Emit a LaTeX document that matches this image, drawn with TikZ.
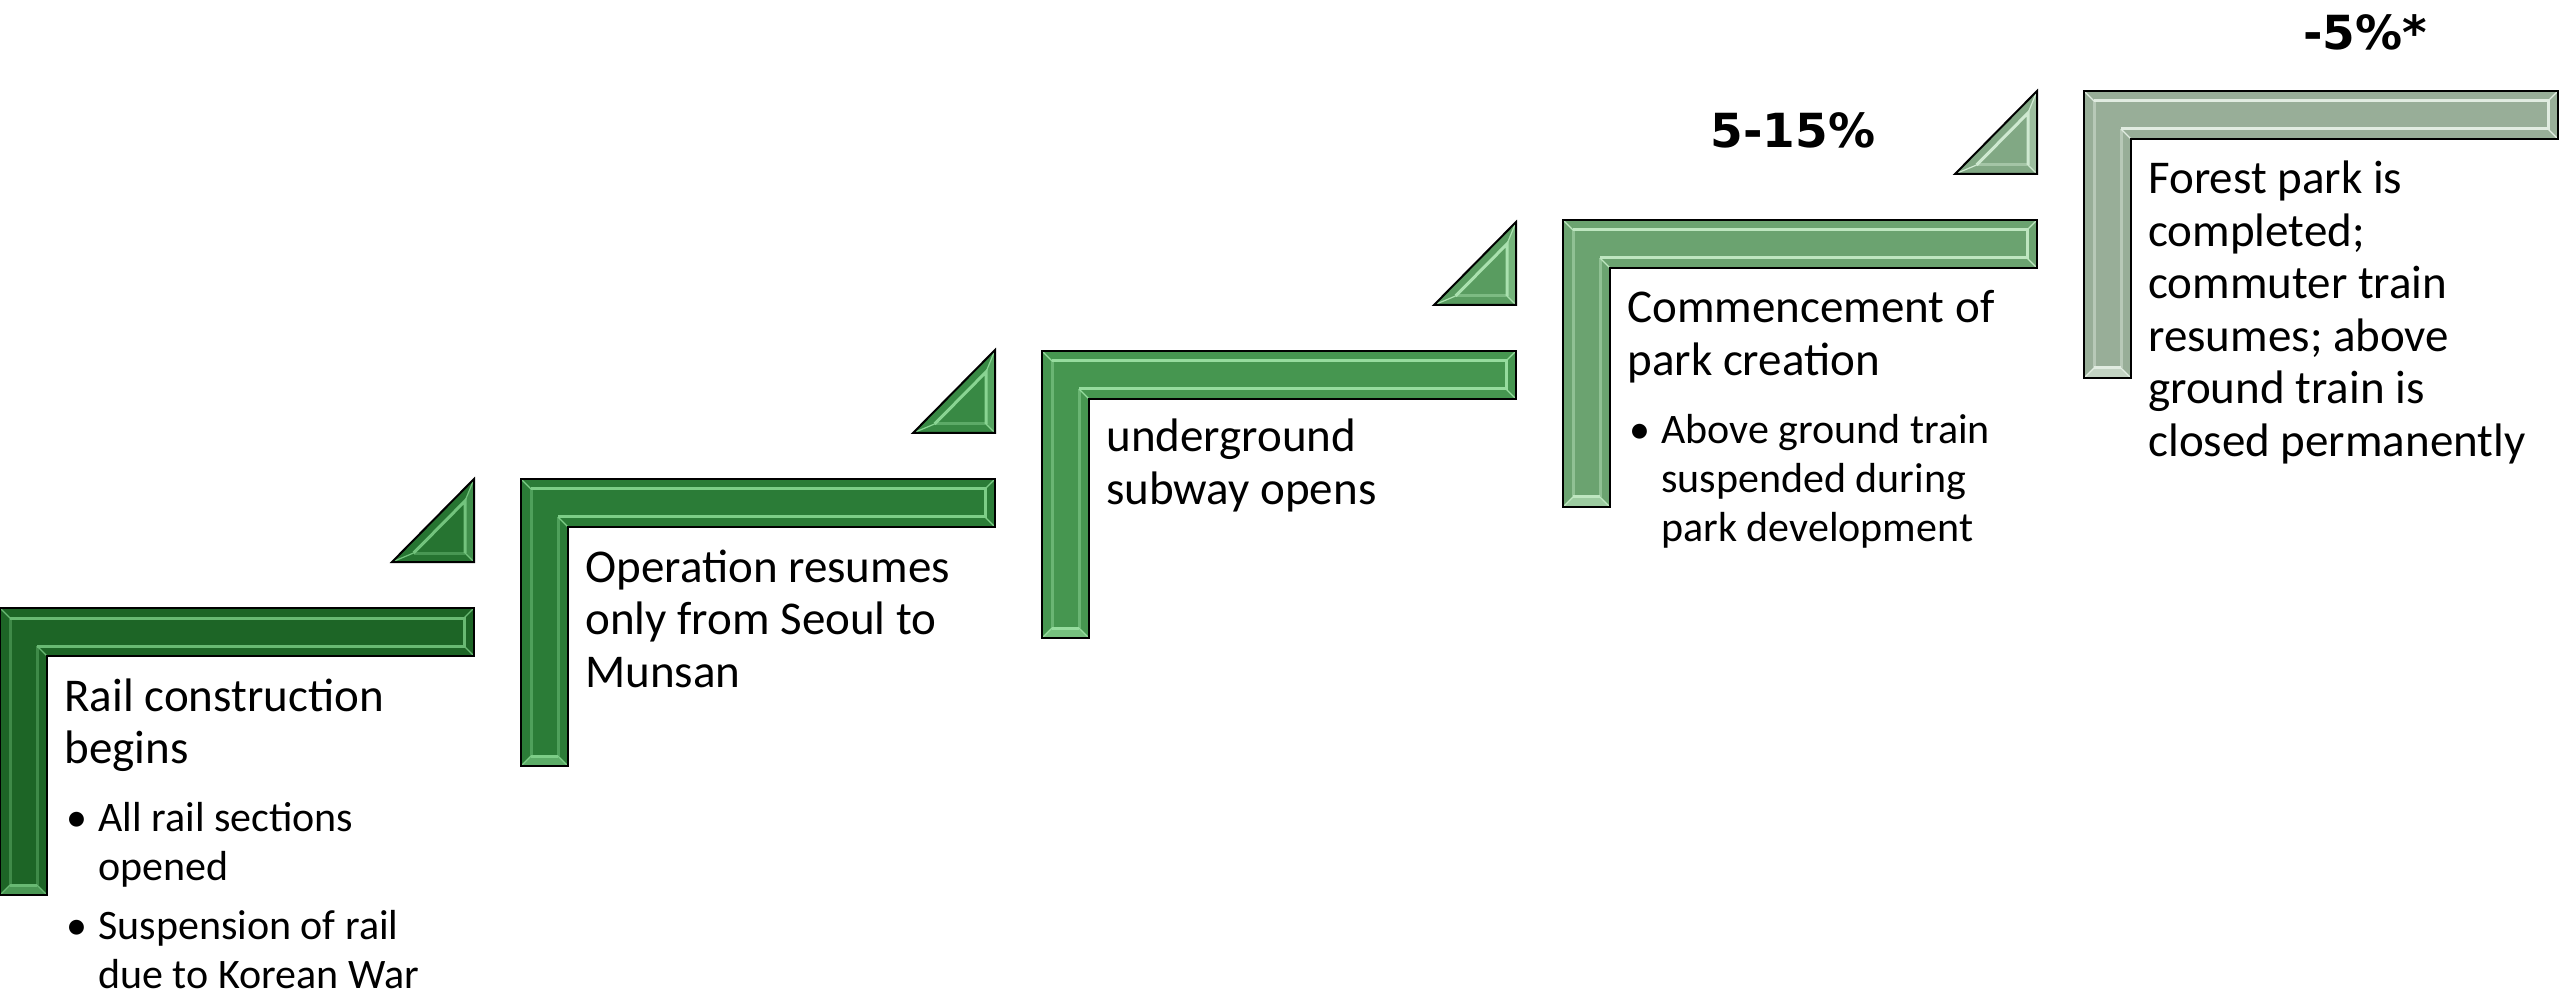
\documentclass[tikz,border=0pt]{standalone}
\usepackage{fontspec}
\setmainfont{Carlito}
\newfontfamily\labelfont{DejaVu Sans}
\definecolor{sA}{RGB}{29,101,38}
\definecolor{sB}{RGB}{43,124,55}
\definecolor{sC}{RGB}{70,150,80}
\definecolor{sD}{RGB}{107,163,112}
\definecolor{sE}{RGB}{152,174,152}
\definecolor{lA}{RGB}{105,185,115}
\definecolor{lB}{RGB}{125,205,135}
\definecolor{lC}{RGB}{150,220,158}
\definecolor{lD}{RGB}{190,230,192}
\definecolor{lE}{RGB}{225,236,225}
\newcommand\hd{\fontsize{23.5pt}{26.25pt}\selectfont}
\newcommand\bl{\fontsize{21pt}{24.5pt}\selectfont}
\newcommand\bitem[2][5pt]{\par\vspace{#1}\bl\noindent\hangindent=17pt\hangafter=1\makebox[17pt][l]{\hspace{1pt}\textbullet}#2\par}
\tikzset{
  stepbody/.style={fill=#1},
  outline/.style={draw=black, line width=1pt, line join=miter},
  bevel/.style={draw=#1, line width=1.5pt, line join=miter},
  softbevel/.style={draw=#1, line width=1.5pt, draw opacity=0.45},
  joint/.style={draw=#1, line width=0.6pt},
  txt/.style={anchor=base west, inner sep=0pt},
  pct/.style={anchor=base, inner sep=0pt, font=\labelfont\bfseries\fontsize{23.5pt}{28pt}\selectfont},
}
\newcommand\Lshape[4]{%
  \begin{scope}[shift={(#1,#2)}]
    \fill[stepbody=#3] (0,0) -- (474,0) -- (474,48) -- (47,48) -- (47,287) -- (0,287) -- cycle;
    \fill[#4, opacity=0.6] (0,287) -- (47,287) -- (37,277) -- (10,277) -- cycle;
    \draw[bevel=#4] (10,10) -- (464,10) -- (464,38) -- (37,38);
    \draw[bevel=#4] (10,277) -- (37,277);
    \draw[softbevel=#4] (37,38) -- (37,277) (10,277) -- (10,10);
    \draw[joint=#4] (0,0) -- (10,10) (474,0) -- (464,10) (474,48) -- (464,38)
      (47,48) -- (37,38) (47,287) -- (37,277) (0,287) -- (10,277);
    \draw[outline] (0,0) -- (474,0) -- (474,48) -- (47,48) -- (47,287) -- (0,287) -- cycle;
  \end{scope}}
\newcommand\Tri[4]{%
  \begin{scope}[shift={(#1,#2)}]
    \fill[stepbody=#3] (-82,0) -- (0,0) -- (0,-83) -- cycle;
    \fill[#4, opacity=0.35] (0,0) -- (0,-83) -- (-9,-61) -- (-9,-9) -- cycle;
    \draw[bevel=#4] (-60.4,-9) -- (-9,-61) -- (-9,-9);
    \draw[softbevel=#4] (-9,-9) -- (-60.4,-9);
    \draw[joint=#4] (-82,0) -- (-60.4,-9) (0,0) -- (-9,-9) (0,-83) -- (-9,-61);
    \draw[outline] (-82,0) -- (0,0) -- (0,-83) -- cycle;
  \end{scope}}
\begin{document}
\begin{tikzpicture}[x=0.5pt,y=-0.5pt]
\useasboundingbox (0,0) rectangle (2560,994);
% steps
\Lshape{0}{608}{sA}{lA}
\Lshape{521}{479}{sB}{lB}
\Lshape{1042}{351}{sC}{lC}
\Lshape{1563}{220}{sD}{lD}
\Lshape{2084}{91}{sE}{lE}
% triangles
\Tri{474}{562}{sA!35!sB}{lA!50!lB}
\Tri{995}{433}{sB!50!sC}{lB!50!lC}
\Tri{1516}{305}{sC!50!sD}{lC!50!lD}
\Tri{2037}{174}{sD!50!sE}{lD!50!lE}
% texts
\node[txt] (t1) at (64,711) {\parbox[t]{215pt}{\hd Rail construction\\begins\par
  \bitem[9.5pt]{All rail sections\\opened}
  \bitem{Suspension of rail\\due to Korean War}}};
\node[txt] (t2) at (585,582) {\parbox[t]{215pt}{\hd Operation resumes\\only from Seoul to\\Munsan}};
\node[txt] (t3) at (1106,452) {\parbox[t]{215pt}{\hd underground\\subway opens}};
\node[txt] (t4) at (1627,323) {\parbox[t]{215pt}{\hd Commencement of\\park creation\par
  \bitem[9.5pt]{Above ground train\\suspended during\\park development}}};
\node[txt] (t5) at (2148,194) {\parbox[t]{215pt}{\hd Forest park is\\completed;\\commuter train\\resumes; above\\ground train is\\closed permanently}};
\node[pct] (p1) at (1793,148) {5-15\%};
\node[pct] (p2) at (2365,50) {-5\%*};
\end{tikzpicture}
\end{document}
